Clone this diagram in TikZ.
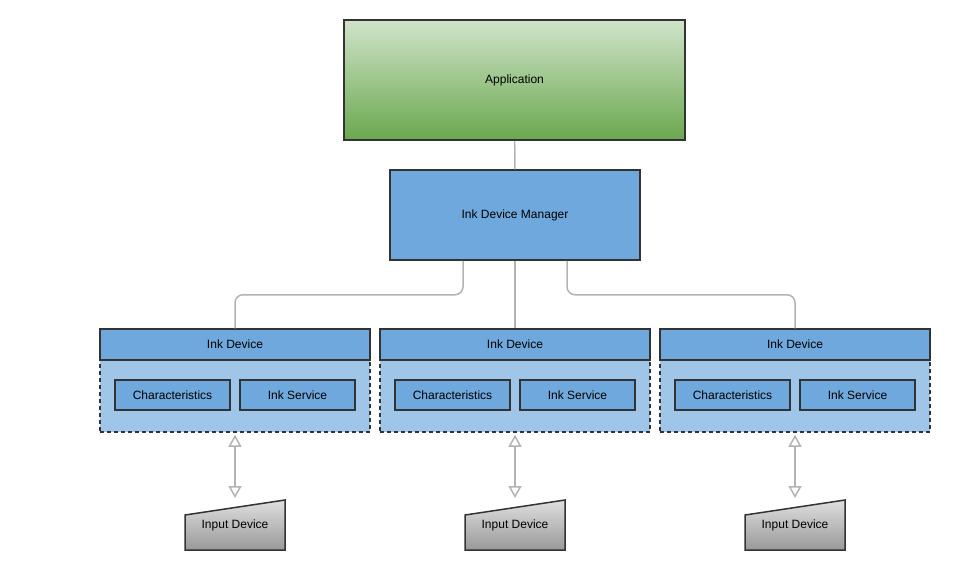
\documentclass[tikz,border=0pt]{standalone}
\usepackage{fontspec}
\setmainfont{Liberation Sans}
\usetikzlibrary{arrows.meta, positioning}
\definecolor{boxblue}{HTML}{6FA8DC}
\definecolor{paleblue}{HTML}{9FC5E8}
\definecolor{edgegray}{HTML}{333333}
\definecolor{wiregray}{HTML}{B3B3B3}
\definecolor{appgreentop}{HTML}{D0E4C9}
\definecolor{appgreenbot}{HTML}{6AA84F}

\begin{document}
\begin{tikzpicture}[
      x=1pt, y=-1pt,
      font=\fontsize{12}{14}\selectfont,
      block/.style={draw=edgegray, line width=1.5pt, fill=boxblue, inner sep=0pt},
      group/.style={draw=edgegray, line width=1.5pt, fill=paleblue, dash pattern=on 4pt off 3pt, inner sep=0pt},
      device/.style={draw=edgegray, line width=1.5pt, top color=gray!25, bottom color=gray!80},
      wire/.style={draw=wiregray, line width=1.5pt},
      duplex/.style={wiregray, line width=1.5pt, {Triangle[open, length=12pt, width=13pt]}-{Triangle[open, length=12pt, width=13pt]}, shorten <=2pt, shorten >=2pt}
    ]
      \useasboundingbox (0,0) rectangle (955,570);

      \node[block, top color=appgreentop, bottom color=appgreenbot,
            minimum width=341pt, minimum height=120pt] (app) at (514.5,80) {Application};
      \node[block, minimum width=250pt, minimum height=90pt] (mgr) at (515,215) {Ink Device Manager};

      % one column per ink device
      \foreach \x/\n in {235/a, 515/b, 795/c} {
        \node[group, minimum width=270pt, minimum height=72pt] (grp\n) at (\x,396) {};
        \node[block, minimum width=270pt, minimum height=31pt] (dev\n) at (\x,344.5) {Ink Device};
        \node[block, minimum width=115pt, minimum height=30pt] (chr\n) at (\x-62.5,395) {Characteristics};
        \node[block, minimum width=115pt, minimum height=30pt, right=8.5pt of chr\n] (svc\n) {Ink Service};
        \draw[device] (\x-50,550) -- (\x-50,515) -- (\x+50,500) -- (\x+50,550) -- cycle;
        \node[minimum width=100pt, minimum height=50pt, inner sep=0pt, outer sep=0pt] (inp\n) at (\x,525) {Input Device};
        \draw[duplex] (grp\n.south) -- (inp\n.north);
      }

      \draw[wire] (app) -- (mgr);
      \draw[wire] (mgr) -- (devb);
      \draw[wire, rounded corners=8pt] ([xshift=-52pt]mgr.south) -- ++(0,34) -| (deva.north);
      \draw[wire, rounded corners=8pt] ([xshift=52pt]mgr.south) -- ++(0,34) -| (devc.north);
    \end{tikzpicture}
\end{document}
